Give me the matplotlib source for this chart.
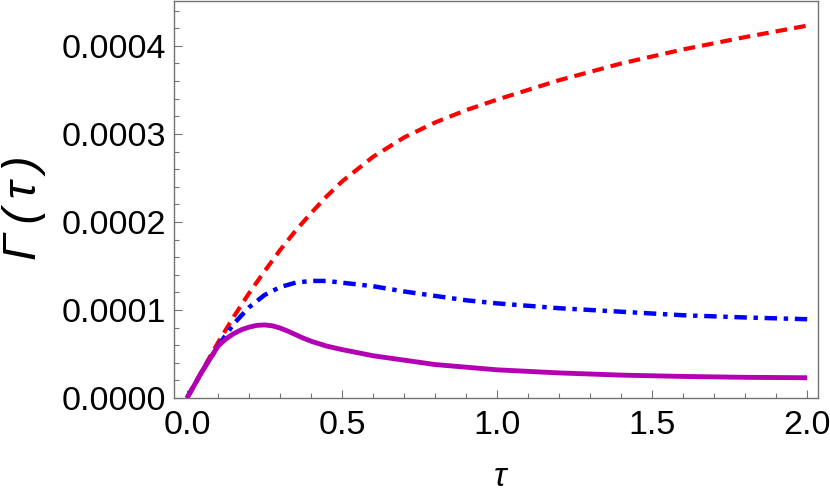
import matplotlib
matplotlib.use("Agg")
import matplotlib.pyplot as plt
from matplotlib.ticker import MultipleLocator, FormatStrFormatter

# values, y in units of 1e-4
tau_red = [0, 0.05, 0.1, 0.15, 0.2, 0.25, 0.3, 0.35, 0.4, 0.45, 0.5, 0.6, 0.7, 0.8, 0.9, 1.0, 1.2, 1.4, 1.6, 1.8, 2.0]
gam_red = [0, 0.32, 0.63, 0.92, 1.19, 1.44, 1.68, 1.90, 2.10, 2.29, 2.46, 2.74, 2.96, 3.13, 3.27, 3.39, 3.61, 3.80, 3.96, 4.10, 4.23]

tau_blue = [0, 0.05, 0.1, 0.15, 0.2, 0.25, 0.3, 0.35, 0.4, 0.45, 0.5, 0.6, 0.7, 0.8, 0.9, 1.0, 1.2, 1.4, 1.6, 1.8, 2.0]
gam_blue = [0, 0.31, 0.59, 0.84, 1.03, 1.17, 1.26, 1.31, 1.33, 1.33, 1.31, 1.27, 1.21, 1.16, 1.11, 1.075, 1.02, 0.98, 0.94, 0.915, 0.895]

tau_mag = [0, 0.05, 0.1, 0.125, 0.15, 0.175, 0.2, 0.225, 0.25, 0.275, 0.3, 0.325, 0.35, 0.375, 0.4,
           0.45, 0.5, 0.6, 0.7, 0.8, 0.9, 1.0, 1.2, 1.4, 1.6, 1.8, 2.0]
gam_mag = [0, 0.31, 0.59, 0.67, 0.73, 0.775, 0.805, 0.825, 0.83, 0.82, 0.795, 0.76, 0.72, 0.68, 0.645,
           0.59, 0.55, 0.48, 0.43, 0.38, 0.35, 0.32, 0.285, 0.26, 0.245, 0.235, 0.23]

scale = 1e-4
frame_col = "#737373"

fig = plt.figure(figsize=(8.3, 4.92), dpi=100)
ax = fig.add_axes([174 / 830, 1 - 398 / 492, (818 - 174) / 830, 397 / 492])

ax.plot(tau_red, [v * scale for v in gam_red], color="red", lw=3.0,
        dashes=(2.8, 1.7), dash_capstyle="butt")
ax.plot(tau_blue, [v * scale for v in gam_blue], color="blue", lw=3.2,
        dashes=(2.8, 1.5, 1.0, 1.5), dash_capstyle="butt")
ax.plot(tau_mag, [v * scale for v in gam_mag], color="#b200b2", lw=3.5,
        solid_capstyle="butt")

ax.set_xlim(-0.042, 2.035)
ax.set_ylim(0, 4.51e-4)

ax.xaxis.set_major_locator(MultipleLocator(0.5))
ax.xaxis.set_minor_locator(MultipleLocator(0.1))
ax.yaxis.set_major_locator(MultipleLocator(1e-4))
ax.yaxis.set_minor_locator(MultipleLocator(2e-5))
ax.xaxis.set_major_formatter(FormatStrFormatter("%.1f"))
ax.yaxis.set_major_formatter(FormatStrFormatter("%.4f"))

for s in ax.spines.values():
    s.set_color(frame_col)
    s.set_linewidth(1.0)

ax.tick_params(which="both", direction="in", color=frame_col, width=0.8)
ax.tick_params(which="major", length=6)
ax.tick_params(which="minor", length=3.5)
ax.tick_params(axis="x", which="major", pad=9, labelsize=24.5)
ax.tick_params(axis="y", which="major", pad=6, labelsize=24.5)
for lab in ax.get_xticklabels() + ax.get_yticklabels():
    lab.set_family("Liberation Sans")

fig.text(24 / 830, 1 - 208 / 492, "Γ\u2009(\u2009τ\u2009)", rotation=90, ha="center", va="center",
         fontsize=34, style="italic", family=["Liberation Sans", "DejaVu Sans"])
fig.text(500 / 830, 1 - 477 / 492, "τ", ha="center", va="center",
         fontsize=24, style="italic", family="Liberation Sans")

fig.savefig("out.png", dpi=100)
